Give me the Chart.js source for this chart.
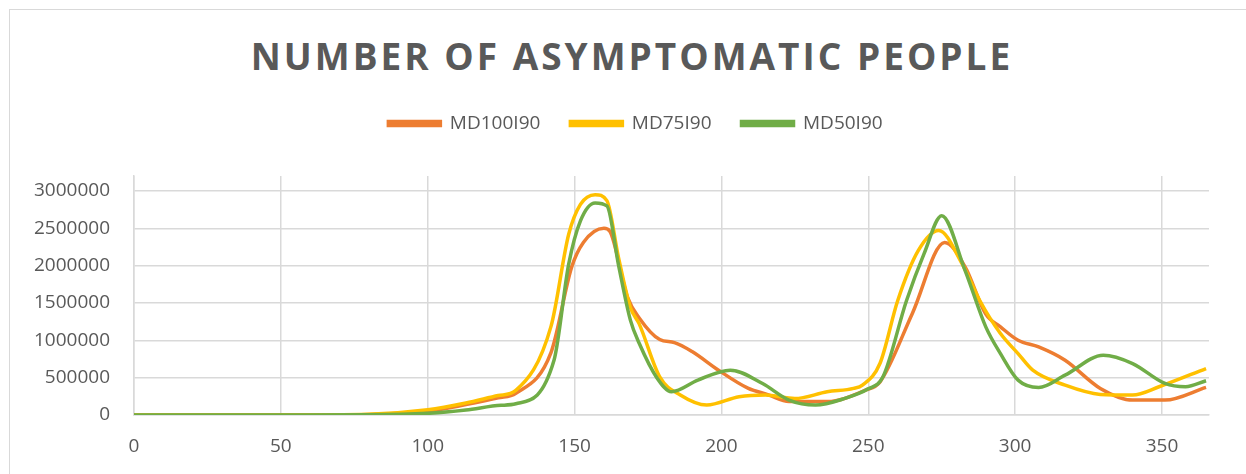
<!DOCTYPE html>
<html>
<head>
<meta charset="utf-8">
<script src="https://cdn.jsdelivr.net/npm/chart.js@4"></script>
<style>
  html, body { margin: 0; padding: 0; background: #fff; }
  #wrap { position: relative; width: 1246px; height: 474px; overflow: hidden; }
  #frame { position: absolute; left: 9px; top: 9px; width: 1300px; height: 500px; border: 1.5px solid #d9d9d9; box-sizing: border-box; }
  #title { position: absolute; left: 0; top: 37px; width: 1264px; text-align: center; font: bold 37px "Open Sans", sans-serif; line-height: 37px; letter-spacing: 3px; color: #595959; white-space: nowrap; }
  canvas { position: absolute; left: 0; top: 0; }
</style>
</head>
<body>
<div id="wrap">
  <div id="frame"></div>
  <div id="title">NUMBER OF ASYMPTOMATIC PEOPLE</div>
  <canvas id="chart" width="1246" height="474"></canvas>
</div>
<script>
// 데이터
const seriesNames = ['MD100I90', 'MD75I90', 'MD50I90'];
const seriesColors = ['#ED7D31', '#FFC000', '#70AD47'];

const md100Days = [0, 50, 80, 100, 113, 124, 130, 142, 149, 153, 160, 162, 168, 172, 179, 184, 190, 199, 209, 216, 223, 236, 249, 254, 265, 276, 283, 290, 295, 301, 308, 317, 329, 340, 351, 365];
const md100Values = [0, 0, 8000, 50000, 140000, 230000, 290000, 840000, 1980000, 2310000, 2500000, 2460000, 1580000, 1300000, 1010000, 970000, 850000, 600000, 360000, 270000, 180000, 180000, 333000, 444000, 1360000, 2310000, 1980000, 1350000, 1180000, 1000000, 911000, 733000, 356000, 200000, 200000, 369000];

const md75Days = [0, 50, 80, 100, 113, 124, 130, 142, 148, 152, 157, 161, 165, 169, 172, 179, 186, 195, 206, 215, 225, 236, 245, 248, 254, 260, 267, 274, 282, 288, 295, 301, 306, 317, 329, 340, 349, 365];
const md75Values = [0, 0, 10000, 70000, 160000, 260000, 330000, 1190000, 2420000, 2820000, 2950000, 2870000, 2100000, 1440000, 1220000, 510000, 267000, 133000, 244000, 267000, 220000, 311000, 356000, 400000, 693000, 1530000, 2200000, 2470000, 2020000, 1530000, 1090000, 822000, 600000, 400000, 276000, 267000, 378000, 622000];

const md50Days = [0, 50, 80, 100, 113, 125, 130, 143, 148, 152, 157, 161, 165, 169, 172, 178, 183, 192, 203, 214, 223, 232, 242, 250, 255, 263, 269, 275, 283, 290, 295, 301, 308, 317, 330, 340, 351, 358, 365];
const md50Values = [0, 0, 2000, 22000, 67000, 130000, 150000, 733000, 2020000, 2600000, 2840000, 2800000, 2000000, 1270000, 960000, 500000, 311000, 467000, 600000, 422000, 200000, 133000, 222000, 350000, 511000, 1530000, 2160000, 2667000, 1930000, 1180000, 822000, 467000, 369000, 533000, 800000, 689000, 422000, 378000, 458000];

const xTicks = [0, 50, 100, 150, 200, 250, 300, 350];
const yTicks = [0, 500000, 1000000, 1500000, 2000000, 2500000, 3000000];

const allDays = [md100Days, md75Days, md50Days];
const allValues = [md100Values, md75Values, md50Values];

const textColor = '#595959';
const gridColor = '#d9d9d9';
const fontFamily = "'Open Sans', sans-serif";

// 범례 아래 여백 + 범례 위치 조정
const legendTweak = {
  id: 'legendTweak',
  beforeInit(chart) {
    const legend = chart.legend;
    const origFit = legend.fit;
    legend.fit = function () {
      origFit.call(this);
      this.height += 33;
    };
    const origDraw = legend.draw;
    legend.draw = function (area) {
      const c = this.ctx;
      c.save();
      c.translate(18, 0);
      origDraw.call(this, area);
      c.restore();
    };
  }
};

function buildDatasets() {
  return seriesNames.map((name, i) => ({
    label: name,
    data: allDays[i].map((d, j) => ({ x: d, y: allValues[i][j] })),
    borderColor: seriesColors[i],
    backgroundColor: seriesColors[i],
    borderWidth: 3.5,
    pointRadius: 0,
    showLine: true,
    fill: false,
    cubicInterpolationMode: 'monotone',
    order: 3 - i
  }));
}

const ctx = document.getElementById('chart').getContext('2d');
new Chart(ctx, {
  type: 'scatter',
  data: { datasets: buildDatasets() },
  plugins: [legendTweak],
  options: {
    responsive: false,
    animation: false,
    layout: { padding: { top: 84, left: 26, right: 37, bottom: 0 } },
    plugins: {
      legend: {
        position: 'top',
        labels: {
          boxWidth: 52,
          boxHeight: 4,
          padding: 30,
          color: textColor,
          font: { family: fontFamily, size: 19 },
          sort: (a, b) => a.datasetIndex - b.datasetIndex
        }
      },
      title: { display: false },
      tooltip: { enabled: false }
    },
    scales: {
      x: {
        type: 'linear',
        min: 0,
        max: 366,
        afterBuildTicks: (scale) => { scale.ticks = xTicks.map(v => ({ value: v })); },
        afterFit: (scale) => { scale.height = 59; },
        grid: { color: gridColor, lineWidth: 1.5, drawTicks: false },
        border: { color: gridColor, width: 1.5 },
        ticks: { color: textColor, padding: 20, maxRotation: 0, font: { family: fontFamily, size: 19 } }
      },
      y: {
        type: 'linear',
        min: 0,
        max: 3200000,
        afterBuildTicks: (scale) => { scale.ticks = yTicks.map(v => ({ value: v })); },
        afterFit: (scale) => { scale.width = 108; },
        grid: { color: gridColor, lineWidth: 1.5, drawTicks: false },
        border: { color: gridColor, width: 1.5 },
        ticks: { color: textColor, padding: 24, font: { family: fontFamily, size: 19 }, callback: (v) => String(v) }
      }
    }
  }
});
</script>
</body>
</html>
